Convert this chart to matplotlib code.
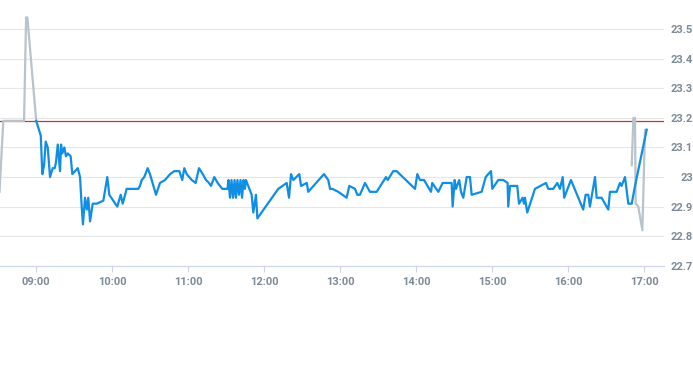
import matplotlib
matplotlib.use("Agg")
import matplotlib.pyplot as plt

# times are minutes after 09:00, prices in the stock's currency
pre_t = [-29.0, -26.0, -9.6, -8.0, -7.0, 0.0]
pre_v = [22.95, 23.19, 23.19, 23.54, 23.54, 23.19]

post_t = [470.2, 471.5, 472.8, 473.3, 475.4, 478.6, 480.7, 482.0]
post_v = [23.04, 23.20, 23.20, 22.91, 22.90, 22.82, 23.16, 23.16]

day_t = [0.0, 3.6, 4.8, 6.2, 7.5, 9.1, 10.9, 13.0, 14.6, 15.6,
         17.0, 18.8, 19.6, 20.6, 22.2, 23.5, 24.9, 27.2, 28.5, 30.6,
         32.8, 34.6, 35.9, 36.9, 38.5, 39.9, 41.1, 42.5, 44.6, 47.8,
         53.0, 56.1, 57.7, 64.0, 66.7, 68.3, 71.4, 80.6, 81.9, 83.3,
         85.3, 88.0, 89.8, 94.6, 97.7, 101.7, 105.7, 109.0, 113.0, 115.3,
         116.9, 118.8, 122.8, 125.9, 128.5, 131.5, 134.1, 136.4, 138.0, 140.6,
         143.3, 146.9, 151.0, 151.8, 153.0, 154.2, 155.4, 156.6, 157.7, 158.9,
         160.1, 161.3, 162.5, 163.7, 164.8, 165.6, 170.1, 171.4, 173.5, 174.6,
         191.1, 197.8, 199.6, 201.2, 203.0, 207.7, 209.1, 213.6, 214.8, 227.2,
         230.6, 232.0, 233.8, 238.5, 245.1, 247.2, 251.7, 253.5, 255.6, 259.6,
         263.5, 268.8, 276.2, 277.5, 281.9, 284.6, 299.1, 300.9, 303.0, 306.2,
         311.7, 312.7, 317.5, 320.9, 328.0, 328.8, 330.4, 331.4, 334.0, 335.4,
         337.2, 339.9, 342.5, 343.8, 351.7, 354.9, 356.9, 359.1, 360.1, 364.8,
         368.8, 372.2, 372.7, 374.1, 379.8, 381.2, 382.7, 384.1, 385.1, 385.9,
         387.7, 393.8, 402.5, 404.3, 408.2, 411.4, 413.5, 415.7, 416.9, 422.2,
         431.9, 433.8, 435.9, 437.2, 441.2, 442.5, 446.4, 451.7, 453.0, 458.3,
         460.9, 462.2, 464.9, 467.5, 470.2, 472.8, 482.0]
day_v = [23.19, 23.14, 23.01, 23.04, 23.12, 23.10, 23.00, 23.03, 23.03, 23.05,
         23.11, 23.02, 23.11, 23.08, 23.10, 23.07, 23.08, 23.07, 23.01, 23.02,
         23.03, 23.00, 22.90, 22.84, 22.93, 22.89, 22.93, 22.85, 22.91, 22.91,
         22.92, 23.00, 22.94, 22.90, 22.94, 22.91, 22.96, 22.96, 22.97, 22.99,
         23.00, 23.03, 23.01, 22.94, 22.98, 22.99, 23.01, 23.02, 23.02, 22.99,
         23.03, 23.01, 22.99, 22.98, 23.03, 23.01, 22.99, 22.98, 22.97, 23.00,
         22.98, 22.96, 22.96, 22.99, 22.93, 22.99, 22.93, 22.99, 22.93, 22.99,
         22.94, 22.99, 22.93, 22.99, 22.96, 22.99, 22.94, 22.88, 22.94, 22.86,
         22.96, 22.98, 22.93, 23.01, 22.99, 23.01, 22.97, 22.98, 22.95, 23.01,
         22.99, 22.96, 22.96, 22.95, 22.93, 22.97, 22.96, 22.94, 22.94, 22.98,
         22.95, 22.95, 23.00, 22.99, 23.02, 23.02, 22.96, 23.01, 22.99, 22.99,
         22.95, 22.98, 22.95, 22.98, 22.98, 22.90, 22.99, 22.96, 22.99, 22.95,
         22.93, 23.00, 23.00, 22.94, 22.95, 23.00, 23.01, 23.02, 22.96, 22.99,
         22.99, 22.98, 22.90, 22.97, 22.97, 22.91, 22.92, 22.93, 22.91, 22.93,
         22.88, 22.96, 22.98, 22.96, 22.96, 22.98, 22.96, 23.00, 22.93, 22.99,
         22.89, 22.94, 22.94, 22.90, 23.00, 22.93, 22.93, 22.89, 22.95, 22.95,
         22.98, 22.97, 23.00, 22.91, 22.91, 22.97, 23.16]

prev_close = 23.19

hour_ticks = [0, 60, 120, 180, 240, 300, 360, 420, 480]
hour_labels = ['09:00', '10:00', '11:00', '12:00', '13:00', '14:00', '15:00', '16:00', '17:00']
price_ticks = [22.7, 22.8, 22.9, 23.0, 23.1, 23.2, 23.3, 23.4, 23.5]

label_col = '#7d8a97'

fig = plt.figure(figsize=(6.93, 3.65), dpi=100)
ax = fig.add_axes([0, 0.272, 0.958, 0.728])

ax.plot(pre_t, pre_v, color='#b8c3cb', lw=1.6, zorder=3, solid_joinstyle='round')
ax.plot(post_t, post_v, color='#b8c3cb', lw=1.6, zorder=3, solid_joinstyle='round')
ax.plot(day_t, day_v, color='#108ee3', lw=1.6, zorder=4, solid_joinstyle='round')
ax.axhline(prev_close, color='#cc3333', lw=0.9, zorder=2)

ax.set_xlim(-28.6, 495.6)
ax.set_ylim(22.7, 23.599)

ax.set_xticks(hour_ticks)
ax.set_xticklabels(hour_labels)
ax.set_yticks(price_ticks)
ax.set_yticklabels(['%g' % round(p, 1) for p in price_ticks])

ax.yaxis.tick_right()
ax.grid(axis='y', color='#e6e6e6', lw=0.8)
ax.set_axisbelow(True)
for s in ['top', 'left', 'right']:
    ax.spines[s].set_visible(False)
ax.spines['bottom'].set_color('#ccd6eb')
ax.spines['bottom'].set_linewidth(0.8)

ax.tick_params(axis='x', length=4, width=0.8, color='#ccd6eb', pad=4,
               labelsize=8, labelcolor=label_col)
ax.tick_params(axis='y', length=0, pad=21, labelsize=8, labelcolor=label_col)
for lab in ax.get_yticklabels():
    lab.set_horizontalalignment('right')
for lab in ax.get_xticklabels() + ax.get_yticklabels():
    lab.set_family('Roboto')
    lab.set_fontweight('bold')

fig.savefig('out.png', dpi=100)
